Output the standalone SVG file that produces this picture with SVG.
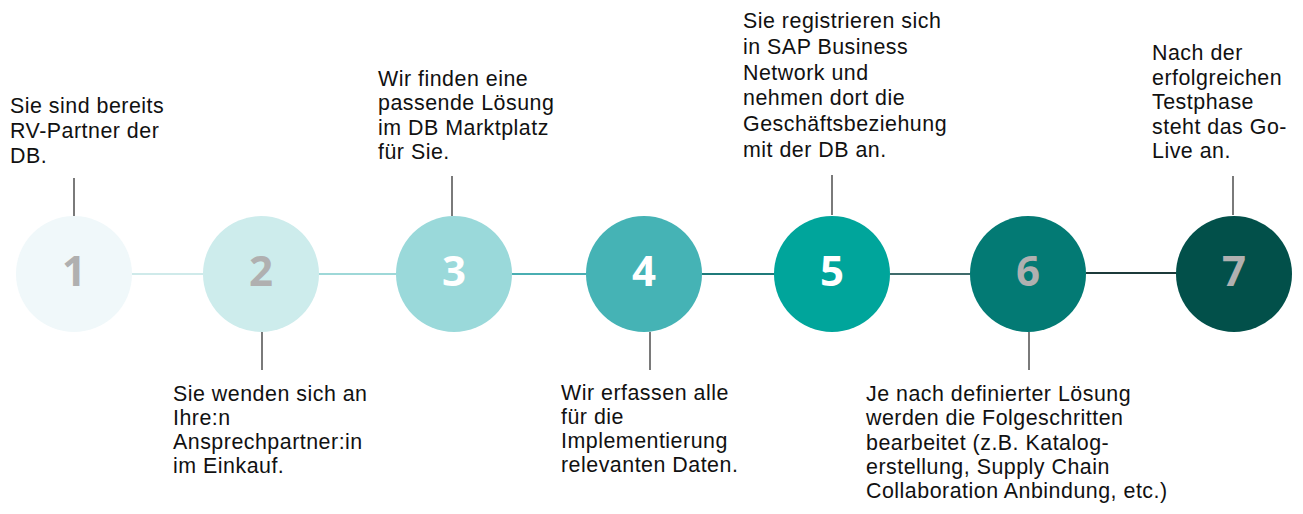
<svg xmlns="http://www.w3.org/2000/svg" width="1303" height="514" viewBox="0 0 1303 514">
<style>
.t{font-family:"Liberation Sans",Arial,sans-serif;font-size:21.4px;letter-spacing:0.5px;fill:#111}
.n{font-family:"Open Sans","Noto Sans",sans-serif;font-size:42px;font-weight:bold;text-anchor:middle}
.tick{stroke:#7a7a7a;stroke-width:2}
.g{fill:#b0b0b0}.w{fill:#fff}
</style>
<rect width="1303" height="514" fill="#fff"/>
<g id="connectors" stroke-width="2">
<line x1="132" y1="274" x2="203" y2="274" stroke="#cfeaea"/>
<line x1="319" y1="274" x2="396" y2="274" stroke="#9ed8d8"/>
<line x1="512" y1="274" x2="586" y2="274" stroke="#4aaeb2"/>
<line x1="702" y1="274" x2="775" y2="274" stroke="#1f7a7a"/>
<line x1="890" y1="274" x2="970" y2="274" stroke="#3f6b6b"/>
<line x1="1086" y1="273" x2="1176" y2="273" stroke="#1c3a3a"/>
<line class="tick" x1="74" y1="178" x2="74" y2="216"/>
<line class="tick" x1="262" y1="332" x2="262" y2="370"/>
<line class="tick" x1="452" y1="176" x2="452" y2="216"/>
<line class="tick" x1="650" y1="332" x2="650" y2="370"/>
<line class="tick" x1="832" y1="175" x2="832" y2="215"/>
<line class="tick" x1="1029" y1="332" x2="1029" y2="370"/>
<line class="tick" x1="1233" y1="176" x2="1233" y2="215"/>
</g>
<g id="step1">
<circle cx="74" cy="274" r="58" fill="#f0f8fa"/>
<text class="n g" x="74" y="286">1</text>
<text class="t"><tspan x="10" y="113">Sie sind bereits</tspan><tspan x="10" y="138">RV-Partner der</tspan><tspan x="10" y="163">DB.</tspan></text>
</g>
<g id="step2">
<circle cx="261" cy="274" r="58" fill="#cdecec"/>
<text class="n g" x="261" y="286">2</text>
<text class="t"><tspan x="173" y="400.5">Sie wenden sich an</tspan><tspan x="173" y="424.8">Ihre:n</tspan><tspan x="173" y="449.1">Ansprechpartner:in</tspan><tspan x="173" y="473.4">im Einkauf.</tspan></text>
</g>
<g id="step3">
<circle cx="454" cy="274" r="58" fill="#9ad9da"/>
<text class="n w" x="454" y="286">3</text>
<text class="t"><tspan x="378" y="86">Wir finden eine</tspan><tspan x="378" y="110.4">passende Lösung</tspan><tspan x="378" y="134.8">im DB Marktplatz</tspan><tspan x="378" y="159.2">für Sie.</tspan></text>
</g>
<g id="step4">
<circle cx="644" cy="274" r="58" fill="#45b3b5"/>
<text class="n w" x="644" y="286">4</text>
<text class="t"><tspan x="561" y="399.5">Wir erfassen alle</tspan><tspan x="561" y="423.8">für die</tspan><tspan x="561" y="448.1">Implementierung</tspan><tspan x="561" y="472.4">relevanten Daten.</tspan></text>
</g>
<g id="step5">
<circle cx="832" cy="274" r="58" fill="#00a59b"/>
<text class="n w" x="832" y="286">5</text>
<text class="t"><tspan x="743" y="28">Sie registrieren sich</tspan><tspan x="743" y="53.8">in SAP Business</tspan><tspan x="743" y="79.6">Network und</tspan><tspan x="743" y="105.4">nehmen dort die</tspan><tspan x="743" y="131.2">Geschäftsbeziehung</tspan><tspan x="743" y="157">mit der DB an.</tspan></text>
</g>
<g id="step6">
<circle cx="1028" cy="274" r="58" fill="#037a74"/>
<text class="n g" x="1028" y="286">6</text>
<text class="t"><tspan x="866" y="401">Je nach definierter Lösung</tspan><tspan x="866" y="425.3">werden die Folgeschritten</tspan><tspan x="866" y="449.6">bearbeitet (z.B. Katalog-</tspan><tspan x="866" y="473.9">erstellung, Supply Chain</tspan><tspan x="866" y="498.2">Collaboration Anbindung, etc.)</tspan></text>
</g>
<g id="step7">
<circle cx="1234" cy="274" r="58" fill="#02504a"/>
<text class="n g" x="1234" y="286">7</text>
<text class="t"><tspan x="1152" y="60">Nach der</tspan><tspan x="1152" y="84.5">erfolgreichen</tspan><tspan x="1152" y="109">Testphase</tspan><tspan x="1152" y="133.5">steht das Go-</tspan><tspan x="1152" y="158">Live an.</tspan></text>
</g>
</svg>
